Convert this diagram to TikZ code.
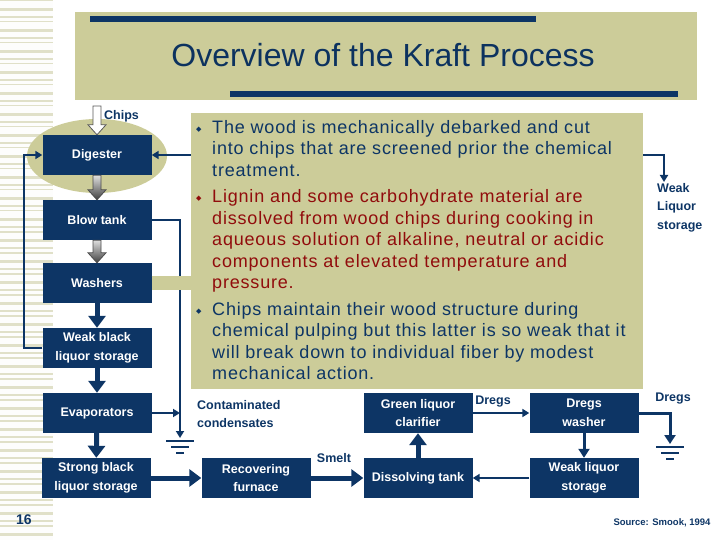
\documentclass[tikz,border=0pt]{standalone}
\usepackage{fontspec}
\setmainfont{Liberation Sans}
\newfontfamily\symfont{DejaVu Sans}
\newfontfamily\notefont[LetterSpace=4.5]{Liberation Sans}
\usetikzlibrary{arrows.meta,calc}

\definecolor{navy}{RGB}{13,53,101}
\definecolor{khaki}{RGB}{204,204,153}
\definecolor{stripe}{RGB}{224,224,200}
\definecolor{darkred}{RGB}{145,12,12}
\definecolor{titleblue}{RGB}{12,50,95}

\tikzset{
    unitbox/.style={fill=navy, text=white, font=\fontsize{12.5}{18.5}\selectfont\bfseries,
        minimum width=109pt, minimum height=40pt, inner sep=0pt, align=center},
    flowlabel/.style={text=navy, font=\fontsize{12.5}{18.5}\selectfont\bfseries, inner sep=0pt, align=left},
    thinflow/.style={draw=navy, line width=2pt, -{Triangle[length=7pt,width=8pt]}},
    thickflow/.style={draw=navy, line width=5pt, -{Triangle[length=12pt,width=17pt]}},
    groundline/.style={draw=navy, line width=1.6pt},
    grayarrow/.style={draw=black!70, line width=0.8pt, top color=gray!25, bottom color=black!75},
    chipsarrow/.style={draw=black!65, line width=0.8pt, fill=white},
}

\newcommand{\blockarrow}[3]{%
    \draw[#1] let \p1=(#2), \p2=(#3) in
        (\x1-4pt,\y1) -- (\x1+4pt,\y1) -- (\x1+4pt,\y2+10pt) -- (\x1+9pt,\y2+10pt)
        -- (\x1,\y2) -- (\x1-9pt,\y2+10pt) -- (\x1-4pt,\y2+10pt) -- cycle;}
\newcommand{\groundat}[1]{%
    \draw[groundline] ($(#1)+(-14,3)$) -- ++(28,0);
    \draw[groundline] ($(#1)+(-9,9)$) -- ++(18,0);
    \draw[groundline] ($(#1)+(-4,15)$) -- ++(8,0);}
\newcommand{\bulletmark}{\makebox[16pt][l]{\raisebox{2pt}{\symfont\fontsize{7}{7}\selectfont ◆}}}

\begin{document}
\begin{tikzpicture}[x=1pt, y=-1pt]
    \useasboundingbox (0,0) rectangle (720,540);
    \fill[white!97!khaki] (0,0) rectangle (53,540);
    \foreach \k in {0,...,76}
        \fill[stripe] (0,{\k*7+mod(\k,3)}) rectangle (53,{\k*7+mod(\k,3)+1.5+mod(\k*5,3)*0.7});

    % title
    \fill[khaki] (75,12) rectangle (697,100);
    \fill[navy] (90,16) rectangle (536,22);
    \fill[navy] (230,91) rectangle (678,97);
    \node[text=titleblue, font=\fontsize{32}{36}\selectfont] (title) at (383,55) {Overview of the Kraft Process};

    % units
    \fill[khaki] (97,156) ellipse [x radius=70, y radius=37];
    \node[unitbox] (dig) at (97,155) {Digester};
    \node[unitbox] (blow) at (97,220) {Blow tank};
    \node[unitbox] (wash) at (97,283) {Washers};
    \node[unitbox] (wbl) at (97,348) {Weak black\\liquor storage};
    \node[unitbox] (evap) at (97,413) {Evaporators};
    \node[unitbox] (sbl) at (96,478) {Strong black\\liquor storage};
    \node[unitbox] (furn) at (256,478) {Recovering\\furnace};
    \node[unitbox] (dtank) at (418,478) {Dissolving tank};
    \node[unitbox] (glc) at (418,413) {Green liquor\\clarifier};
    \node[unitbox] (dwash) at (584,413) {Dregs\\washer};
    \node[unitbox] (wls) at (584,478) {Weak liquor\\storage};

    \coordinate (chipsin) at (97,106);
    \coordinate (g1) at (180,438);
    \coordinate (g2) at (670,444);
    \coordinate (wlq) at (664,182);
    \coordinate (cond) at (180,413);

    \node[flowlabel, anchor=west] (chips) at (104,116) {Chips};
    \node[flowlabel, anchor=north west] (condl) at (197,400) {Contaminated\\condensates};
    \node[flowlabel] (smelt) at (334,458) {Smelt};
    \node[flowlabel] (dregsa) at (493,402) {Dregs};
    \node[flowlabel] (dregsb) at (673,399) {Dregs};
    \node[flowlabel, anchor=north west] (wlqs) at (657,183) {Weak\\Liquor\\storage};

    % connectors
    \blockarrow{chipsarrow}{chipsin}{dig.north}
    \blockarrow{grayarrow}{dig.south}{blow.north}
    \blockarrow{grayarrow}{blow.south}{wash.north}
    \draw[thickflow] (wash) -- (wbl);
    \draw[thickflow] (wbl) -- (evap);
    \draw[thickflow] (evap) -- (sbl);
    \draw[thickflow] (sbl) -- (furn);
    \draw[thickflow] (furn) -- (dtank);
    \draw[thickflow] (dtank) -- (glc);
    \draw[thinflow] (glc) -- (dwash);
    \draw[thinflow, line width=3pt, -{Triangle[length=9pt,width=11pt]}] (dwash) -- (wls);
    \draw[thinflow] (wls) -- (dtank);
    \draw[thinflow, line width=3pt, -{Triangle[length=9pt,width=11pt]}] (dwash.east) -| (g2);
    \draw[thinflow] (wbl.west) -- ++(-18,0) |- (dig.west);
    \draw[thinflow, {Triangle[length=7pt,width=8pt]}-{Triangle[length=7pt,width=8pt]}] (dig.east) -| (wlq);
    \draw[thinflow] (blow.east) -| (g1);
    \draw[thinflow] (evap.east) -- (cond);
    \groundat{g1}
    \groundat{g2}
    \draw[khaki, line width=14pt] (wash.east) -- (191,283);

    % notes
    \fill[khaki] (191,113) rectangle (643,389);
    \node[anchor=north west, inner sep=0pt, align=left, text=navy,
        font=\notefont\fontsize{18}{21.6}\selectfont] (notes) at (196,120)
        {\bulletmark The wood is mechanically debarked and cut\\
         \hspace*{16pt}into chips that are screened prior the chemical\\
         \hspace*{16pt}treatment.\\[4.5pt]
         \color{darkred}\bulletmark Lignin and some carbohydrate material are\\
         \color{darkred}\hspace*{16pt}dissolved from wood chips during cooking in\\
         \color{darkred}\hspace*{16pt}aqueous solution of alkaline, neutral or acidic\\
         \color{darkred}\hspace*{16pt}components at elevated temperature and\\
         \color{darkred}\hspace*{16pt}pressure.\\[4.5pt]
         \bulletmark Chips maintain their wood structure during\\
         \hspace*{16pt}chemical pulping but this latter is so weak that it\\
         \hspace*{16pt}will break down to individual fiber by modest\\
         \hspace*{16pt}mechanical action.};

    \node[text=navy, font=\fontsize{14}{16}\selectfont\bfseries] (page) at (24,520) {16};
    \node[text=navy, font=\fontsize{9.5}{11}\selectfont\bfseries] (source) at (662,523) {Source: Smook, 1994};
\end{tikzpicture}
\end{document}
